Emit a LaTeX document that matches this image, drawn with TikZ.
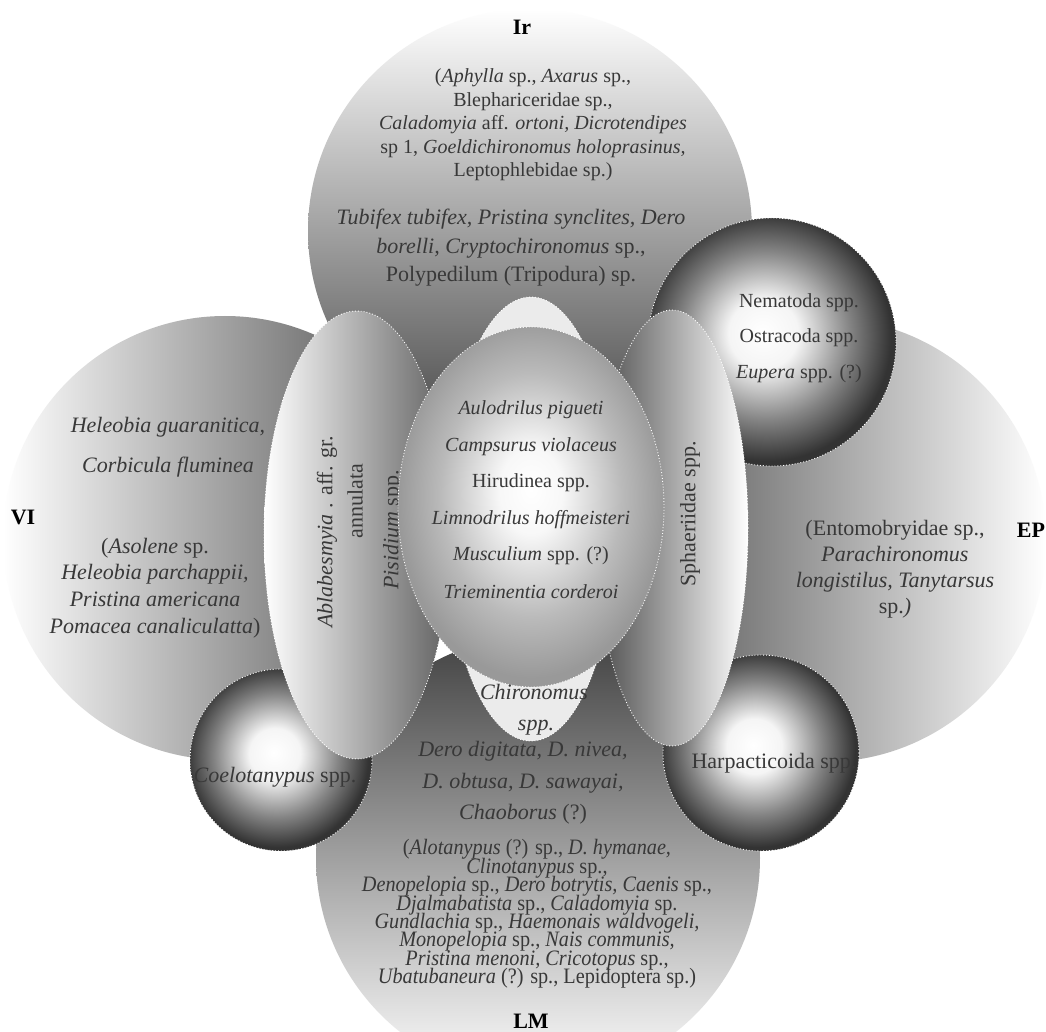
\documentclass[tikz,border=0pt]{standalone}
\usepackage{fontspec}
\setmainfont{Liberation Serif}
\newfontfamily\narrowserif[FakeStretch=0.92]{Liberation Serif}
\newcommand\tightleading{\lineskiplimit=-20pt\relax}

\definecolor{ink}{gray}{0.22}

% sphere and core shadings (centre slightly up-left)
\pgfdeclareradialshading{beadshade}{\pgfpoint{-2bp}{2bp}}{color(0bp)=(white); color(7bp)=(black!4); color(17bp)=(black!48); color(25bp)=(black!80); color(50bp)=(black!80)}
\pgfdeclareradialshading{coreshade}{\pgfpoint{0bp}{2.5bp}}{color(0bp)=(white); color(6bp)=(black!3); color(17bp)=(black!27); color(25bp)=(black!40); color(50bp)=(black!40)}

\begin{document}
\begin{tikzpicture}[x=0.5pt, y=-0.5pt,
    every node/.style={text=ink, inner sep=0pt},
    zone/.style={top color=white, bottom color=black!74, shading angle=#1},
    rim/.style={draw=white, densely dotted, line width=0.45pt},
    bead/.style={rim, shade, shading=beadshade},
    body/.style={font=\fontsize{11}{#1}\selectfont, align=center},
    body/.default=13.2,
    fine/.style={font=\fontsize{10}{#1}\selectfont, align=center},
    fine/.default=12,
    zonename/.style={font=\fontsize{11}{13}\selectfont\bfseries, text=black}]

    \useasboundingbox (0,0) rectangle (1046,1032);
    \fill[white] (0,0) rectangle (1046,1032);
    \clip (0,0) rectangle (1046,1032);

    % ---------- four zones (white towards the outside) ----------
    \foreach \cx/\cy/\ang in {530/231/0, 225/538/90, 538/858/180, 824/540/270}{
        \shade[zone=\ang] (\cx,\cy) circle (222);
    }

    % Ir
    \node[zonename] (Ir) at (522,27) {Ir};
    \node[fine=11.75] (IrRare) at (533,125) {(\textit{Aphylla} sp., \textit{Axarus} sp.,\\
        Blephariceridae sp.,\\
        \textit{Caladomyia} aff. \textit{ortoni, Dicrotendipes}\\
        sp 1, \textit{Goeldichironomus holoprasinus,}\\
        Leptophlebidae sp.)};
    \node[body=14.25] (IrCommon) at (511,248) {\textit{Tubifex tubifex, Pristina synclites, Dero}\\
        \textit{borelli, Cryptochironomus} sp.,\\
        Polypedilum (Tripodura) sp.};

    % VI
    \node[zonename] (VI) at (23,517) {VI};
    \node[body=20] (VICommon) at (168,447) {\textit{Heleobia guaranitica,}\\ \textit{Corbicula fluminea}};
    \node[body=13.3] (VIRare) at (155,588) {(\textit{Asolene} sp.\\
        \textit{Heleobia parchappii,}\\
        \textit{Pristina americana}\\
        \textit{Pomacea canaliculatta})};

    % EP
    \node[zonename] (EP) at (1031,530) {EP};
    \node[body=13] (EPRare) at (895,569) {(Entomobryidae sp.,\\
        \textit{Parachironomus}\\
        \textit{longistilus, Tanytarsus}\\
        sp.\textit{)}};

    % LM
    \node[zonename] (LM) at (531,1021) {LM};
    \node[align=center, font=\narrowserif\fontsize{11}{9.2}\selectfont\tightleading] (LMRare) at (537,914)
        {(\textit{Alotanypus} (?) sp., \textit{D. hymanae,}\\
        \textit{Clinotanypus} sp.,\\
        \textit{Denopelopia} sp., \textit{Dero botrytis, Caenis} sp.,\\
        \textit{Djalmabatista} sp., \textit{Caladomyia} sp.\\
        \textit{Gundlachia} sp., \textit{Haemonais waldvogeli,}\\
        \textit{Monopelopia} sp., \textit{Nais communis,}\\
        \textit{Pristina menoni, Cricotopus} sp.,\\
        \textit{Ubatubaneura} (?) sp., Lepidoptera sp.)};

    % ---------- spheres ----------
    \foreach \cx/\cy/\r in {772/342/124, 281/760/91, 761/753/98}{
        \path[bead] (\cx,\cy) circle (\r);
    }
    \node[fine=17.75] (Nema) at (799,338) {Nematoda spp.\\ Ostracoda spp.\\ \textit{Eupera} spp. (?)};
    \node[body] (Coelo) at (275,777) {\textit{Coelotanypus} spp.};
    \node[body] (Harpa) at (774,763) {Harpacticoida spp.};

    % ---------- middle white ellipse ----------
    \path[rim, left color=black!8, middle color=white, right color=black!8]
        (531,519) ellipse [x radius=86, y radius=222];
    \node[body=15.75] (LMCommon) at (523,783) {\textit{Dero digitata, D. nivea,}\\
        \textit{D. obtusa, D. sawayai,}\\
        \textit{Chaoborus} (?)};

    % ---------- side ellipses ----------
    \path[rim, left color=white, middle color=black!6, right color=black!62]
        (357,535) ellipse [x radius=93, y radius=224];
    \node[body, rotate=90] (Abla) at (327,532) {\textit{Ablabesmyia} . aff. gr.};
    \node[body, rotate=90] (Annu) at (355,501) {annulata};
    \node[body, rotate=90] (Pisi) at (393,530) {\textit{Pisidium} spp.};

    \path[rim, left color=black!70, middle color=black!10, right color=white]
        (672,528) ellipse [x radius=76, y radius=218];
    \node[body, rotate=90] (Sphae) at (690,514) {Sphaeriidae spp.};

    % ---------- central oval ----------
    \path[rim, shade, shading=coreshade] (531,507) ellipse [x radius=133, y radius=180];
    \foreach \i/\txt in {0/\textit{Aulodrilus pigueti},
                         1/\textit{Campsurus violaceus},
                         2/Hirudinea spp.,
                         3/\textit{Limnodrilus hoffmeisteri},
                         4/\textit{Musculium} spp. (?),
                         5/\textit{Trieminentia corderoi}}{
        \node[fine] (core\i) at (531,{410+36.4*\i}) {\txt};
    }

    \node[body] (Chir) at (534,692) {\textit{Chironomus}};
    \node[body] (ChirSpp) at (536,728) {\textit{spp.}};

\end{tikzpicture}
\end{document}
